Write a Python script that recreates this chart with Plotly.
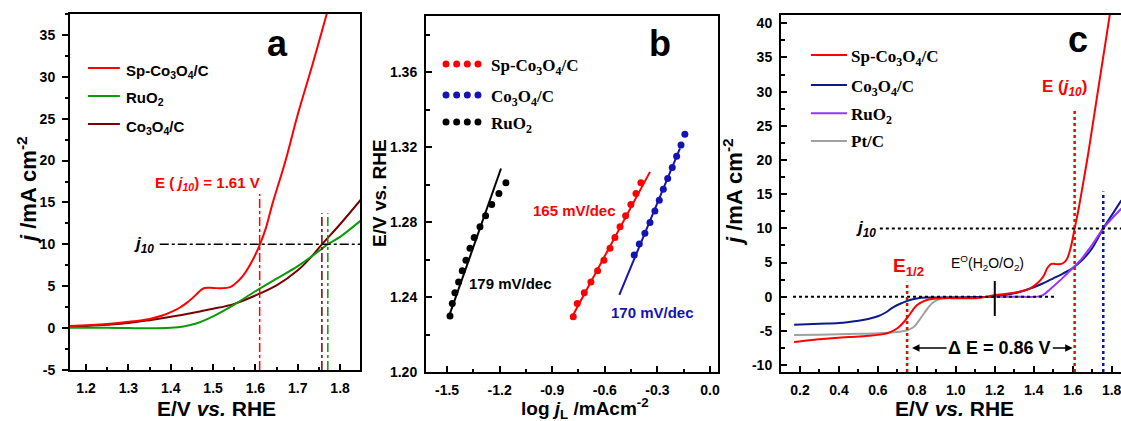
import plotly.graph_objects as go

W, H = 1121, 421
SANS = "Liberation Sans"
SERIF = "Liberation Serif"

RED = "#ff0000"
GREEN = "#0a9a0a"
BROWN = "#7a0000"
NAVY = "#0c1a8c"
BLUE_B = "#1414b4"
PURPLE = "#9a33ff"
GREY = "#a0a0a0"

# ---------------- panel a : OER polarisation curves ----------------
a_sp_E = [1.16, 1.20, 1.25, 1.30, 1.35, 1.38, 1.40, 1.42, 1.44, 1.46, 1.47, 1.48, 1.50,
          1.52, 1.54, 1.55, 1.57, 1.59, 1.61, 1.625, 1.64, 1.67, 1.70, 1.735, 1.77]
a_sp_j = [0.25, 0.35, 0.5, 0.75, 1.1, 1.5, 1.9, 2.4, 3.1, 4.0, 4.5, 4.8, 4.8,
          4.75, 4.9, 5.2, 6.2, 7.8, 9.9, 12.0, 14.8, 19.8, 25.5, 31.5, 37.8]
a_ru_E = [1.16, 1.20, 1.25, 1.30, 1.35, 1.40, 1.43, 1.46, 1.50, 1.55, 1.60, 1.65, 1.70,
          1.75, 1.77, 1.80, 1.85]
a_ru_j = [0.05, 0.05, 0.03, 0.0, -0.02, 0.05, 0.2, 0.55, 1.4, 2.8, 4.4, 5.9, 7.4,
          9.2, 10.0, 10.9, 12.9]
a_co_E = [1.16, 1.20, 1.25, 1.30, 1.35, 1.40, 1.45, 1.50, 1.55, 1.60, 1.65, 1.70, 1.73,
          1.757, 1.80, 1.85]
a_co_j = [0.15, 0.25, 0.4, 0.6, 0.95, 1.35, 1.8, 2.3, 2.9, 3.9, 5.1, 6.9, 8.4,
          10.0, 12.4, 15.4]

J10 = 10.0
E_J10_SP = 1.61
E_J10_CO = 1.757
E_J10_RU = 1.771

# ---------------- panel b : Tafel plots ----------------
b_sp_logj = [-0.780, -0.757, -0.717, -0.679, -0.641, -0.605, -0.570, -0.542, -0.513,
             -0.481, -0.451, -0.422, -0.394]
b_sp_E = [1.2295, 1.2366, 1.2423, 1.2480, 1.2540, 1.2597, 1.2660, 1.2718, 1.2775,
          1.2834, 1.2894, 1.2953, 1.3010]
b_co_logj = [-0.432, -0.403, -0.371, -0.342, -0.314, -0.289, -0.266, -0.241, -0.215,
             -0.190, -0.165, -0.143]
b_co_E = [1.2624, 1.2683, 1.2740, 1.2798, 1.2859, 1.2917, 1.2976, 1.3033, 1.3092,
          1.3152, 1.3211, 1.3269]
b_ru_logj = [-1.483, -1.470, -1.455, -1.434, -1.413, -1.392, -1.369, -1.345, -1.312,
             -1.280, -1.245, -1.204, -1.164]
b_ru_E = [1.2299, 1.2366, 1.2423, 1.2480, 1.2540, 1.2597, 1.2660, 1.2718, 1.2775,
          1.2834, 1.2894, 1.2953, 1.3010]

# linear fits drawn over each data set (end points)
fit_sp_logj = [-0.793, -0.342]
fit_sp_E = [1.2283, 1.3068]
fit_co_logj = [-0.517, -0.171]
fit_co_E = [1.2411, 1.3193]
fit_ru_logj = [-1.493, -1.192]
fit_ru_E = [1.2286, 1.3086]

tafel_slopes = ["165 mV/dec", "170 mV/dec", "179 mV/dec"]
# label anchor points (log j, E) for the slope texts
tafel_label_logj = [-0.77, -0.325, -1.14]
tafel_label_E = [1.286, 1.232, 1.247]

# ---------------- panel c : bifunctional ORR / OER curves ----------------
c_sp_E = [0.17, 0.25, 0.35, 0.45, 0.55, 0.62, 0.66, 0.70, 0.73, 0.76, 0.78, 0.80, 0.83,
          0.86, 0.90, 0.95, 1.00, 1.10, 1.15, 1.20, 1.25, 1.30, 1.35, 1.38, 1.42, 1.45,
          1.47, 1.49, 1.51, 1.53, 1.55, 1.57, 1.59, 1.61, 1.63, 1.65, 1.68, 1.71, 1.74,
          1.77, 1.80]
c_sp_j = [-6.6, -6.35, -6.1, -5.9, -5.7, -5.5, -5.2, -4.6, -3.8, -2.7, -1.9, -1.25, -0.7,
          -0.4, -0.25, -0.2, -0.2, -0.2, -0.05, 0.25, 0.4, 0.6, 0.9, 1.2, 2.0, 3.0,
          4.2, 4.8, 4.8, 4.75, 4.9, 5.5, 7.2, 10.0, 12.8, 16.0, 21.0, 26.5, 32.0,
          37.5, 43.0]
c_co_E = [0.17, 0.30, 0.40, 0.50, 0.55, 0.60, 0.64, 0.68, 0.72, 0.76, 0.80, 0.85, 0.95,
          1.10, 1.20, 1.30, 1.40, 1.45, 1.50, 1.55, 1.60, 1.65, 1.70, 1.757, 1.80, 1.85]
c_co_j = [-4.1, -3.95, -3.85, -3.5, -3.25, -2.85, -2.3, -1.5, -0.95, -0.5, -0.25, -0.12,
          -0.1, -0.05, 0.05, 0.5, 1.4, 2.0, 2.7, 3.4, 4.2, 5.4, 7.1, 10.0, 11.9, 14.1]
c_ru_E = [1.17, 1.30, 1.42, 1.44, 1.46, 1.48, 1.50, 1.55, 1.60, 1.65, 1.70, 1.757, 1.80, 1.85]
c_ru_j = [0.0, 0.0, 0.02, 0.15, 0.5, 1.0, 1.5, 2.8, 4.2, 5.7, 7.6, 10.0, 11.4, 12.9]
c_pt_E = [0.17, 0.30, 0.45, 0.60, 0.70, 0.75, 0.78, 0.80, 0.82, 0.84, 0.86, 0.88, 0.91,
          0.94, 0.97, 1.00]
c_pt_j = [-5.6, -5.55, -5.45, -5.35, -5.15, -4.9, -4.5, -3.9, -3.1, -2.3, -1.5, -0.9, -0.4,
          -0.15, -0.05, 0.0]

E_HALF_SP = 0.75
E_J10_CO_C = 1.757
E_H2O_O2 = 1.20

# tick labels
a_xticks = [1.2, 1.3, 1.4, 1.5, 1.6, 1.7, 1.8]
a_yticks = [-5, 0, 5, 10, 15, 20, 25, 30, 35]
b_xticks = [-1.5, -1.2, -0.9, -0.6, -0.3, 0.0]
b_xticktext = ["-1.5", "-1.2", "-0.9", "-0.6", "-0.3", "0.0"]
b_yticks = [1.20, 1.24, 1.28, 1.32, 1.36]
c_xticks = [0.2, 0.4, 0.6, 0.8, 1.0, 1.2, 1.4, 1.6, 1.8]
c_yticks = [-10, -5, 0, 5, 10, 15, 20, 25, 30, 35, 40]
a_yticktext = [str(v) for v in a_yticks]
c_yticktext = [str(v) for v in c_yticks]


def px(x):
    return x / W


def py(y):
    return 1 - y / H


fig = go.Figure()

# ---- traces panel a
for E, j, col in [(a_co_E, a_co_j, BROWN), (a_ru_E, a_ru_j, GREEN), (a_sp_E, a_sp_j, RED)]:
    fig.add_trace(go.Scatter(x=E, y=j, mode="lines", line=dict(color=col, width=2, shape="spline"),
                             xaxis="x", yaxis="y", showlegend=False))

# ---- traces panel b
for lx, ly, mx, my, col in [(fit_ru_logj, fit_ru_E, b_ru_logj, b_ru_E, "#000000"),
                            (fit_sp_logj, fit_sp_E, b_sp_logj, b_sp_E, RED),
                            (fit_co_logj, fit_co_E, b_co_logj, b_co_E, BLUE_B)]:
    fig.add_trace(go.Scatter(x=lx, y=ly, mode="lines", line=dict(color=col, width=2),
                             xaxis="x2", yaxis="y2", showlegend=False))
    fig.add_trace(go.Scatter(x=mx, y=my, mode="markers", marker=dict(color=col, size=7),
                             xaxis="x2", yaxis="y2", showlegend=False))

# ---- traces panel c
for E, j, col in [(c_pt_E, c_pt_j, GREY), (c_co_E, c_co_j, NAVY), (c_ru_E, c_ru_j, PURPLE),
                  (c_sp_E, c_sp_j, RED)]:
    fig.add_trace(go.Scatter(x=E, y=j, mode="lines", line=dict(color=col, width=2, shape="spline"),
                             xaxis="x3", yaxis="y3", showlegend=False))

shapes = []
annotations = []

# ---- reference lines panel a
shapes.append(dict(type="line", xref="x", yref="y", x0=1.374, x1=1.847, y0=J10, y1=J10,
                   line=dict(color="black", width=1.5, dash="dashdot")))
for e, top, col in [(E_J10_SP, 16.0, RED), (E_J10_CO, 13.7, BROWN), (E_J10_RU, 13.7, GREEN)]:
    shapes.append(dict(type="line", xref="x", yref="y", x0=e, x1=e, y0=-5, y1=top,
                       line=dict(color=col, width=1.5, dash="dashdot")))

# ---- reference lines panel c
shapes.append(dict(type="line", xref="x3", yref="y3", x0=0.164, x1=1.518, y0=0, y1=0,
                   line=dict(color="black", width=2, dash="dot")))
shapes.append(dict(type="line", xref="x3", yref="y3", x0=0.61, x1=1.848, y0=J10, y1=J10,
                   line=dict(color="black", width=2, dash="dot")))
shapes.append(dict(type="line", xref="x3", yref="y3", x0=E_HALF_SP, x1=E_HALF_SP, y0=-11, y1=2.2,
                   line=dict(color=RED, width=2.5, dash="dot")))
shapes.append(dict(type="line", xref="x3", yref="y3", x0=E_J10_SP, x1=E_J10_SP, y0=-11, y1=27.4,
                   line=dict(color=RED, width=2.5, dash="dot")))
shapes.append(dict(type="line", xref="x3", yref="y3", x0=E_J10_CO_C, x1=E_J10_CO_C, y0=-11, y1=15.4,
                   line=dict(color=NAVY, width=2.5, dash="dot")))
shapes.append(dict(type="line", xref="x3", yref="y3", x0=E_H2O_O2, x1=E_H2O_O2, y0=-2.8, y1=2.3,
                   line=dict(color="black", width=2)))


def ann(**kw):
    base = dict(showarrow=False, xanchor="center", yanchor="middle",
                font=dict(family=SANS, size=14, color="black", weight="bold"))
    if "font" in kw:
        base["font"] = {**base["font"], **kw.pop("font")}
    base.update(kw)
    annotations.append(base)


# ---- legends
def line_legend(xr, yr, x0, x1, xt, rows, font):
    for y, col, txt in rows:
        shapes.append(dict(type="line", xref=xr, yref=yr, x0=x0, x1=x1, y0=y, y1=y,
                           line=dict(color=col, width=2)))
        ann(xref=xr, yref=yr, x=xt, y=y, text=txt, xanchor="left",
            yshift=-3 if "<sub>" in txt else 0, font=font)


SP_TXT = "Sp-Co<sub>3</sub>O<sub>4</sub>/C"
CO_TXT = "Co<sub>3</sub>O<sub>4</sub>/C"
RU_TXT = "RuO<sub>2</sub>"
PT_TXT = "Pt/C"

line_legend("x domain", "y domain", 0.062, 0.172, 0.185,
            [(0.848, RED, SP_TXT), (0.770, GREEN, RU_TXT), (0.691, BROWN, CO_TXT)],
            dict(family=SANS, size=15))
line_legend("x3 domain", "y3 domain", 0.088, 0.194, 0.2,
            [(0.888, RED, SP_TXT), (0.804, NAVY, CO_TXT), (0.725, PURPLE, RU_TXT),
             (0.647, GREY, PT_TXT)],
            dict(family=SERIF, size=17))

# dotted legend panel b
dx = 7 / 292 / 2
dy = 7 / 356 / 2
for y, col, txt in [(0.865, RED, SP_TXT), (0.778, BLUE_B, CO_TXT), (0.702, "#000000", RU_TXT)]:
    for k in range(4):
        cx = 0.0685 + k * 0.0365
        shapes.append(dict(type="circle", xref="x2 domain", yref="y2 domain",
                           x0=cx - dx, x1=cx + dx, y0=y - dy, y1=y + dy,
                           fillcolor=col, line=dict(color=col, width=0)))
    ann(xref="x2 domain", yref="y2 domain", x=0.216, y=y, text=txt, xanchor="left",
        yshift=-3, font=dict(family=SERIF, size=17))

# ---- panel letters
ann(xref="x domain", yref="y domain", x=0.717, y=0.918, text="a", font=dict(size=36))
ann(xref="x2 domain", yref="y2 domain", x=0.801, y=0.924, text="b", font=dict(size=36))
ann(xref="x3 domain", yref="y3 domain", x=0.874, y=0.93, text="c", font=dict(size=36))

# ---- panel a labels
ann(xref="x", yref="y", x=1.486, y=17.3,
    text=f"E ( <i>j</i><sub><i>10</i></sub>) = {E_J10_SP:.2f} V", font=dict(size=15, color=RED))
ann(xref="x", yref="y", x=1.365, y=J10, xanchor="right",
    text="<i>j</i><sub><i>10</i></sub>", yshift=-1, font=dict(size=17))

# ---- panel b labels
for lx, ly, txt, col in zip(tafel_label_logj, tafel_label_E, tafel_slopes, [RED, BLUE_B, "black"]):
    ann(xref="x2", yref="y2", x=lx, y=ly, text=txt, font=dict(size=15, color=col))

# ---- panel c labels
ann(xref="x3", yref="y3", x=1.56, y=30.5,
    text="E (<i>j</i><sub><i>10</i></sub>)", font=dict(size=17, color=RED))
ann(xref="x3", yref="y3", x=0.60, y=J10, xanchor="right",
    text="<i>j</i><sub><i>10</i></sub>", yshift=-1, font=dict(size=17))
ann(xref="x3", yref="y3", x=0.755, y=4.3, text="E<sub>1/2</sub>", font=dict(size=19, color=RED))
ann(xref="x3", yref="y3", x=1.165, y=4.9, text="E<sup>O</sup>(H<sub>2</sub>O/O<sub>2</sub>)",
    font=dict(size=14, weight="normal"))
ann(xref="x3", yref="y3", x=1.225, y=-7.5, text=f"Δ E = {E_J10_SP - E_HALF_SP:.2f} V",
    font=dict(size=18))
for head, tail in [(E_HALF_SP + 0.025, 0.96), (E_J10_SP - 0.01, 1.49)]:
    annotations.append(dict(xref="x3", yref="y3", axref="x3", ayref="y3", x=head, y=-7.5,
                            ax=tail, ay=-7.5, text="", showarrow=True, arrowhead=2,
                            arrowsize=1, arrowwidth=1.5, arrowcolor="black"))

# ---- axis titles
TITLE_FONT = dict(size=21)
ann(xref="paper", yref="paper", x=px(216), y=py(408), text="E/V <i>vs.</i> RHE", font=TITLE_FONT)
ann(xref="paper", yref="paper", x=px(954), y=py(408), text="E/V <i>vs.</i> RHE", font=TITLE_FONT)
ann(xref="paper", yref="paper", x=px(585), y=py(408), text="log <i>j</i><sub>L</sub> /mAcm<sup>-2</sup>",
    font=dict(size=19))
ann(xref="paper", yref="paper", x=px(27), y=py(190), text="<i>j</i> /mA cm<sup>-2</sup>",
    textangle=-90, font=dict(size=22))
ann(xref="paper", yref="paper", x=px(733), y=py(192), text="<i>j</i> /mA cm<sup>-2</sup>",
    textangle=-90, font=dict(size=22))
ann(xref="paper", yref="paper", x=px(379), y=py(193), text="E/V vs. RHE",
    textangle=-90, font=dict(size=19))


def axis(domain, rng, tickvals, ticks, minor_dtick, anchor, mirror=True, ticktext=None, fmt=None):
    d = dict(domain=domain, range=rng, anchor=anchor, showline=True, linewidth=2,
             linecolor="black", mirror=mirror, showgrid=False, zeroline=False,
             tickmode="array", tickvals=tickvals, ticks=ticks, ticklen=6, tickwidth=1.5,
             tickcolor="black", ticklabelstandoff=4, automargin=False,
             ticklabeloverflow="allow",
             minor=dict(ticks=ticks, dtick=minor_dtick, ticklen=3.5, tickwidth=1.5,
                        tickcolor="black", showgrid=False),
             tickfont=dict(family=SANS, size=14, color="black", weight="bold"))
    if ticktext is not None:
        d["ticktext"] = ticktext
    if fmt is not None:
        d["tickformat"] = fmt
    return d


fig.update_layout(
    width=W, height=H, autosize=False, margin=dict(l=0, r=0, t=0, b=0, pad=0),
    paper_bgcolor="white", plot_bgcolor="white", showlegend=False,
    xaxis=axis([px(70), px(360)], [1.162, 1.847], a_xticks, "inside", 0.05, "y", fmt=".1f"),
    yaxis=axis([py(370), py(14)], [-5, 37.5], a_yticks, "outside", 2.5, "x",
               ticktext=a_yticktext),
    xaxis2=axis([px(426), px(718)], [-1.62, 0.046], b_xticks, "inside", 0.15, "y2",
                ticktext=b_xticktext),
    yaxis2=axis([py(372), py(16)], [1.20, 1.39], b_yticks, "inside", 0.02, "x2", fmt=".2f"),
    xaxis3=axis([px(781), 1.0], [0.1025, 1.848], c_xticks, "inside", 0.1, "y3", fmt=".1f"),
    yaxis3=axis([py(372), py(15)], [-11.0, 41.2], c_yticks, "inside", 2.5, "x3", mirror=False,
                ticktext=c_yticktext),
    shapes=shapes, annotations=annotations,
)
fig.layout.xaxis2.minor.tick0 = -1.5
fig.layout.yaxis.minor.tick0 = -5
fig.layout.yaxis3.minor.tick0 = -10

fig.write_html("out.html")
